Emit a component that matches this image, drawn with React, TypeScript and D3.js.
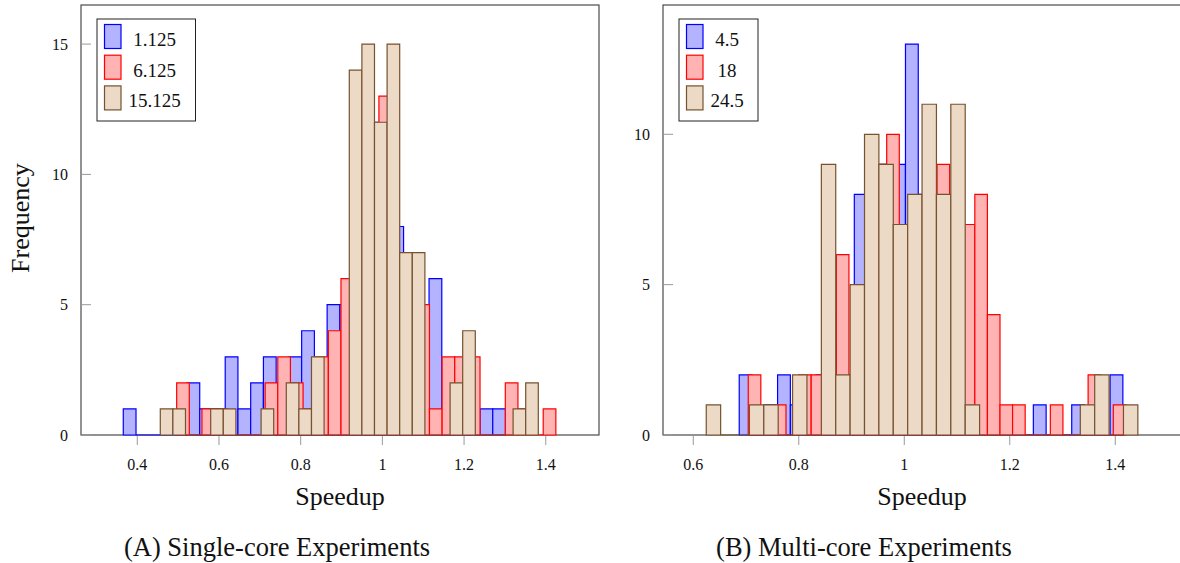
import React from 'react';
import * as d3 from 'd3';

// ---------- data ----------
const leftLegend = ['1.125', '6.125', '15.125'];
const rightLegend = ['4.5', '18', '24.5'];

// histogram bin ranges (30 equal bins per series)
const leftBlueRange = [0.3657, 1.3014];
const leftRedRange = [0.4964, 1.4247];
const leftTanRange = [0.4563, 1.3817];
const leftBlue = [1, 0, 0, 0, 0, 2, 1, 1, 3, 1, 2, 3, 2, 3, 4, 2, 5, 5, 10, 12, 9, 8, 4, 2, 6, 1, 1, 0, 1, 1];
const leftRed = [2, 0, 1, 1, 0, 0, 0, 2, 3, 2, 1, 3, 4, 6, 10, 11, 13, 5, 7, 5, 1, 3, 3, 3, 0, 0, 2, 1, 0, 1];
const leftTan = [1, 1, 0, 0, 1, 1, 0, 0, 1, 0, 2, 1, 3, 0, 0, 14, 15, 12, 15, 7, 7, 0, 0, 2, 4, 0, 0, 0, 1, 2];

const rightBlueRange = [0.6871, 1.4144];
const rightRedRange = [0.7042, 1.4201];
const rightTanRange = [0.6246, 1.4428];
const rightBlue = [2, 0, 1, 2, 1, 1, 2, 4, 2, 8, 8, 9, 9, 13, 8, 6, 4, 3, 2, 1, 0, 0, 0, 1, 0, 0, 1, 0, 0, 2];
const rightRed = [2, 0, 1, 0, 2, 2, 3, 6, 2, 3, 9, 10, 5, 5, 4, 9, 2, 7, 8, 4, 1, 1, 0, 0, 1, 0, 0, 2, 0, 1];
const rightTan = [1, 0, 0, 1, 1, 0, 2, 0, 9, 2, 5, 10, 9, 7, 8, 11, 8, 11, 1, 0, 0, 0, 0, 0, 0, 0, 1, 2, 0, 1];

const leftXTicks = [0.4, 0.6, 0.8, 1.0, 1.2, 1.4];
const leftYTicks = [0, 5, 10, 15];
const rightXTicks = [0.6, 0.8, 1.0, 1.2, 1.4];
const rightYTicks = [0, 5, 10];
const leftXDomain = [0.2622, 1.5303];
const rightXDomain = [0.5426, 1.5246];
const leftYDomain = [0, 16.5];
const rightYDomain = [0, 14.3];

const xLabel = 'Speedup';
const yLabel = 'Frequency';
const captions = ['(A) Single-core Experiments', '(B) Multi-core Experiments'];

// ---------- style ----------
const FONT = '"Liberation Serif", "Times New Roman", serif';
const seriesStyle = [
  { fill: '#b3b3ff', stroke: '#0000ff' },
  { fill: '#ffb3b3', stroke: '#ff0000' },
  { fill: '#ecd9c6', stroke: '#76522f' },
];

type PanelProps = {
  x0: number; x1: number; y0: number; y1: number;
  xDomain: number[]; yDomain: number[];
  xTicks: number[]; yTicks: number[];
  series: { range: number[]; counts: number[] }[];
  legend: string[]; legendW: number; legendTextDx: number;
  caption: string; captionX: number; showYLabel: boolean;
};

function Panel(p: PanelProps) {
  const x = d3.scaleLinear().domain(p.xDomain).range([p.x0, p.x1]);
  const y = d3.scaleLinear().domain(p.yDomain).range([p.y1, p.y0]);
  const bars = p.series.map((s, si) => {
    const n = s.counts.length;
    const w = (s.range[1] - s.range[0]) / n;
    return s.counts.map((c, i) => {
      const a = x(s.range[0] + i * w);
      const b = x(s.range[0] + (i + 1) * w);
      const base = y(0);
      const top = y(c);
      const path = d3.path();
      path.moveTo(a, base);
      path.lineTo(a, top);
      path.lineTo(b, top);
      path.lineTo(b, base);
      path.closePath();
      return (
        <path key={`${si}-${i}`} d={path.toString()} fill={seriesStyle[si].fill}
          stroke={seriesStyle[si].stroke} strokeWidth={1.2} strokeLinejoin="miter" />
      );
    });
  });
  const lx = p.x0 + 16;
  const ly = 19;
  return (
    <g>
      <rect x={p.x0} y={p.y0} width={p.x1 - p.x0} height={p.y1 - p.y0} fill="none" stroke="#3a3a3a" strokeWidth={1.1} />
      {p.yTicks.map((t) => (
        <g key={`y${t}`}>
          <line x1={p.x0} x2={p.x0 + 10} y1={y(t)} y2={y(t)} stroke="#999" strokeWidth={1} />
          <text x={p.x0 - 13} y={y(t) + 5.5} textAnchor="end" fontSize={16} fontFamily={FONT} fill="#111">{String(t)}</text>
        </g>
      ))}
      {p.xTicks.map((t) => (
        <g key={`x${t}`}>
          <line x1={x(t)} x2={x(t)} y1={p.y1} y2={p.y1 + 10} stroke="#999" strokeWidth={1} />
          <text x={x(t)} y={469.5} textAnchor="middle" fontSize={16} fontFamily={FONT} fill="#111">{String(t)}</text>
        </g>
      ))}
      {bars}
      <text x={(p.x0 + p.x1) / 2} y={505} textAnchor="middle" fontSize={26} fontFamily={FONT} fill="#111">{xLabel}</text>
      {p.showYLabel && (
        <text transform={`translate(28.5,218) rotate(-90)`} textAnchor="middle" fontSize={26} fontFamily={FONT} fill="#111">{yLabel}</text>
      )}
      <text x={p.captionX} y={556} textAnchor="middle" fontSize={26.5} fontFamily={FONT} fill="#111">{p.caption}</text>
      <rect x={lx} y={ly} width={p.legendW} height={102} fill="#fff" stroke="#222" strokeWidth={1} />
      {p.legend.map((name, i) => (
        <g key={name}>
          <rect x={lx + 7.5} y={ly + 5.5 + i * 30.7} width={16.5} height={24} fill={seriesStyle[i].fill}
            stroke={seriesStyle[i].stroke} strokeWidth={1.2} />
          <text x={lx + p.legendTextDx} y={ly + 26.7 + i * 30.8} textAnchor="middle" fontSize={19} fontFamily={FONT} fill="#111">{name}</text>
        </g>
      ))}
    </g>
  );
}

export default function App() {
  return (
    <svg width={1180} height={563} style={{ position: 'absolute', left: 0, top: 0, background: '#fff' }}>
      <rect x={0} y={0} width={1180} height={563} fill="#fff" />
      <Panel x0={81} x1={599} y0={5} y1={435} xDomain={leftXDomain} yDomain={leftYDomain}
        xTicks={leftXTicks} yTicks={leftYTicks}
        series={[{ range: leftBlueRange, counts: leftBlue }, { range: leftRedRange, counts: leftRed }, { range: leftTanRange, counts: leftTan }]}
        legend={leftLegend} legendW={98.5} legendTextDx={57.7} caption={captions[0]} captionX={277} showYLabel={true} />
      <Panel x0={663} x1={1181} y0={5} y1={435} xDomain={rightXDomain} yDomain={rightYDomain}
        xTicks={rightXTicks} yTicks={rightYTicks}
        series={[{ range: rightBlueRange, counts: rightBlue }, { range: rightRedRange, counts: rightRed }, { range: rightTanRange, counts: rightTan }]}
        legend={rightLegend} legendW={79} legendTextDx={48} caption={captions[1]} captionX={864} showYLabel={false} />
    </svg>
  );
}
